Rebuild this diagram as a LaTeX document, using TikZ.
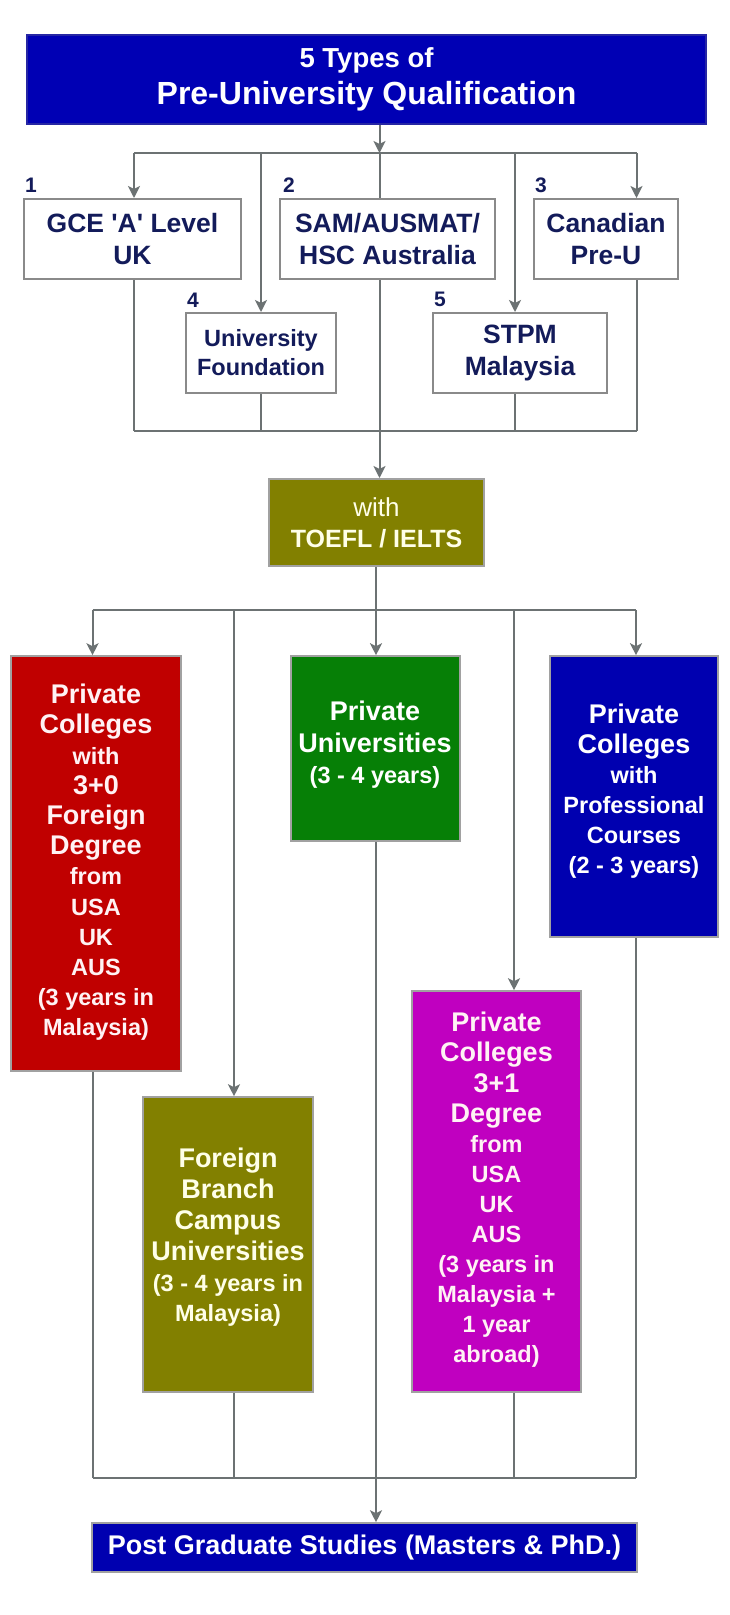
\documentclass[tikz,border=0pt]{standalone}
\usepackage{fontspec}
\setmainfont{Liberation Sans}
\usetikzlibrary{arrows.meta}
\newcommand\myfs[2]{\fontsize{#1pt}{#2pt}\selectfont}
\newcommand\Sf{\myfs{23.5}{28}}
\definecolor{navy}{HTML}{131B5A}
\definecolor{linegray}{HTML}{6C7273}
\definecolor{boxgray}{HTML}{8A8A8A}
\definecolor{titleblue}{HTML}{0000B4}
\definecolor{dblue}{HTML}{0000B0}
\definecolor{dred}{HTML}{C00000}
\definecolor{dgreen}{HTML}{067F06}
\definecolor{olive}{HTML}{828000}
\definecolor{dmag}{HTML}{C000C0}
\definecolor{paleyel}{HTML}{FFFFE8}
\definecolor{palepink}{HTML}{FFF2F4}
\begin{document}
\begin{tikzpicture}[x=1pt,y=-1pt,
  wbox/.style={draw=boxgray, line width=2pt, fill=white, text=navy,
    font=\bfseries\myfs{26.5}{32}, align=center, inner sep=0pt},
  cbox/.style={draw=boxgray!80, line width=1.6pt, inner sep=0pt},
  ctext/.style={align=center, inner sep=0pt, font=\bfseries\myfs{27}{30}},
  numlab/.style={text=navy, font=\bfseries\myfs{21}{24}, inner sep=0pt},
  conn/.style={draw=linegray, line width=2pt},
  arr/.style={conn, -{Stealth[length=12pt,width=12pt,inset=3pt]}}
]
\useasboundingbox (0,0) rectangle (730,1615);
\fill[white] (0,0) rectangle (730,1615);

% ---------- top section ----------
\node[wbox, draw=titleblue!70!gray, fill=titleblue, text=white, minimum width=679pt, minimum height=89pt,
  font=\bfseries\myfs{32}{37}] (title) at (366.5,79.5)
  {{\myfs{27.5}{37}5 Types of}\\Pre-University Qualification};

\node[wbox, minimum width=217pt, minimum height=80pt] (b1) at (132.5,239)
  {GCE \textquotesingle A\textquotesingle\ Level\\UK};
\node[wbox, minimum width=215pt, minimum height=80pt] (b2) at (387.5,239)
  {SAM/AUSMAT/\\HSC Australia};
\node[wbox, minimum width=144pt, minimum height=80pt] (b3) at (606,239)
  {Canadian\\Pre-U};
\node[wbox, minimum width=150pt, minimum height=80pt, font=\bfseries\myfs{23.5}{29}] (b4) at (261,353)
  {University\\Foundation};
\node[wbox, minimum width=174pt, minimum height=80pt] (b5) at (520,353)
  {STPM\\Malaysia};

\node[numlab] (n1) at (31,185) {1};
\node[numlab] (n2) at (289,185) {2};
\node[numlab] (n3) at (541,185) {3};
\node[numlab] (n4) at (193,300) {4};
\node[numlab] (n5) at (440,299) {5};

\node[wbox, draw=boxgray!80, fill=olive, text=paleyel, minimum width=215pt, minimum height=87pt,
  font=\bfseries\myfs{25}{31}] (toefl) at (376.5,522.5)
  {{\mdseries\myfs{26}{31}with}\\TOEFL / IELTS};

% ---------- middle section ----------
\node[cbox, fill=dred, minimum width=170pt, minimum height=415pt] (red) at (96,863.5) {};
\node[cbox, fill=dgreen, minimum width=169pt, minimum height=185pt] (green) at (375.5,748.5) {};
\node[cbox, fill=dblue, minimum width=168pt, minimum height=281pt] (blue) at (634,796.5) {};
\node[cbox, fill=olive, minimum width=170pt, minimum height=295pt] (fbc) at (228,1244.5) {};
\node[cbox, fill=dmag, minimum width=169pt, minimum height=401pt] (mag) at (496.5,1191.5) {};

\node[ctext, text=palepink, font=\bfseries\myfs{27}{30.2}] (redtxt) at (96,862.5)
  {Private\\Colleges\\{\Sf with}\\3+0\\Foreign\\Degree\\{\Sf from}\\{\Sf USA}\\{\Sf UK}\\{\Sf AUS}\\{\Sf (3 years in}\\{\Sf Malaysia)}};
\node[ctext, text=white, font=\bfseries\myfs{27}{31.5}] (greentxt) at (375,745)
  {Private\\Universities\\{\Sf (3 - 4 years)}};
\node[ctext, text=white, font=\bfseries\myfs{27}{30}] (bluetxt) at (634,791.5)
  {Private\\Colleges\\{\Sf with}\\{\Sf Professional}\\{\Sf Courses}\\{\Sf (2 - 3 years)}};
\node[ctext, text=paleyel, font=\bfseries\myfs{27}{30.8}] (fbctxt) at (228,1237.5)
  {Foreign\\Branch\\Campus\\Universities\\{\Sf (3 - 4 years in}\\{\Sf Malaysia)}};
\node[ctext, text=palepink, font=\bfseries\myfs{27}{30.1}] (magtxt) at (496.5,1190)
  {Private\\Colleges\\3+1\\Degree\\{\Sf from}\\{\Sf USA}\\{\Sf UK}\\{\Sf AUS}\\{\Sf (3 years in}\\{\Sf Malaysia +}\\{\Sf 1 year}\\{\Sf abroad)}};

\node[cbox, fill=dblue, text=white, minimum width=545pt, minimum height=49pt,
  font=\bfseries\myfs{27}{30}] (post) at (364.5,1547.5)
  {Post Graduate Studies (Masters \& PhD.)};

% ---------- bus and column coordinates ----------
\coordinate (busA) at (0,153);
\coordinate (busB) at (0,431);
\coordinate (busC) at (0,610);
\coordinate (busD) at (0,1478);
\coordinate (a1) at (134,0);
\coordinate (a2) at (261,0);
\coordinate (a3) at (379.5,0);
\coordinate (a4) at (515,0);
\coordinate (a5) at (636.5,0);
\coordinate (c1) at (92.5,0);
\coordinate (c2) at (234,0);
\coordinate (c3) at (376,0);
\coordinate (c4) at (514,0);
\coordinate (c5) at (636,0);

% ---------- connectors: top ----------
\draw[arr] (title.south -| a3) -- (busA -| a3);
\draw[conn] (busA -| a3) -- (b2.north -| a3);
\draw[conn] (busA -| a1) -- (busA -| a5);
\draw[arr] (busA -| a1) -- (b1.north -| a1);
\draw[arr] (busA -| a2) -- (b4.north -| a2);
\draw[arr] (busA -| a4) -- (b5.north -| a4);
\draw[arr] (busA -| a5) -- (b3.north -| a5);

\draw[conn] (b1.south -| a1) -- (busB -| a1);
\draw[conn] (b4.south -| a2) -- (busB -| a2);
\draw[conn] (b5.south -| a4) -- (busB -| a4);
\draw[conn] (b3.south -| a5) -- (busB -| a5);
\draw[conn] (busB -| a1) -- (busB -| a5);
\draw[arr] (b2.south -| a3) -- (toefl.north -| a3);

% ---------- connectors: middle ----------
\draw[arr] (toefl.south -| c3) -- (green.north -| c3);
\draw[conn] (busC -| c1) -- (busC -| c5);
\draw[arr] (busC -| c1) -- (red.north -| c1);
\draw[arr] (busC -| c2) -- (fbc.north -| c2);
\draw[arr] (busC -| c4) -- (mag.north -| c4);
\draw[arr] (busC -| c5) -- (blue.north -| c5);

% ---------- connectors: bottom ----------
\draw[conn] (red.south -| c1) -- (busD -| c1);
\draw[conn] (fbc.south -| c2) -- (busD -| c2);
\draw[conn] (mag.south -| c4) -- (busD -| c4);
\draw[conn] (blue.south -| c5) -- (busD -| c5);
\draw[conn] (busD -| c1) -- (busD -| c5);
\draw[arr] (green.south -| c3) -- (post.north -| c3);
\end{tikzpicture}
\end{document}
